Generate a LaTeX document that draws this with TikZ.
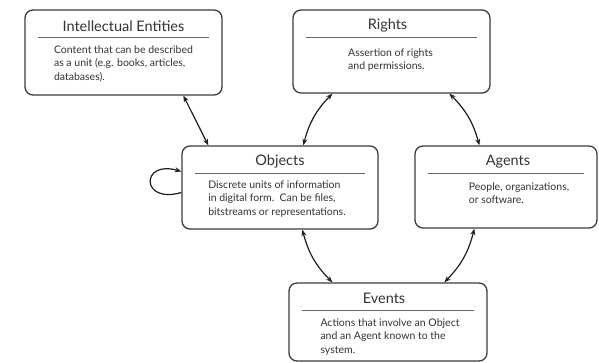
\documentclass[tikz,border=0pt]{standalone}
\usepackage{fontspec}
\setmainfont{Lato}
\usetikzlibrary{arrows.meta,calc}
\definecolor{boxcol}{HTML}{3C3C3C}
\definecolor{txtcol}{HTML}{333333}
\definecolor{rulecol}{HTML}{666666}
\definecolor{arrcol}{HTML}{1E1E1E}
\tikzset{
  box/.style={draw=boxcol, line width=1.3pt, rounded corners=8pt, fill=white, inner sep=0pt},
  boxtitle/.style={font=\fontsize{14.5}{16}\selectfont, text=txtcol, inner sep=0pt},
  boxbody/.style={font=\fontsize{10.5}{13.5}\selectfont, align=left, text=txtcol, anchor=north, inner sep=0pt},
  boxrule/.style={draw=rulecol, line width=0.8pt},
  link/.style={{Stealth[length=6.5pt,width=5pt]}-{Stealth[length=6.5pt,width=5pt]}, line width=1.2pt, draw=arrcol},
  selflink/.style={-{Stealth[length=6.5pt,width=5pt]}, line width=1.2pt, draw=arrcol},
}
\begin{document}
\begin{tikzpicture}[x=1pt,y=-1pt]
\useasboundingbox (0,0) rectangle (599,363);

% boxes
\node[box, minimum width=197pt, minimum height=85pt] (ie) at (123.5,52.5) {};
\node[box, minimum width=197pt, minimum height=83pt] (rights) at (391.5,51.5) {};
\node[box, minimum width=196pt, minimum height=83pt] (obj) at (280,187.5) {};
\node[box, minimum width=182pt, minimum height=82pt] (agents) at (506,187) {};
\node[box, minimum width=198pt, minimum height=78pt] (events) at (388,322) {};

% titles
\node[boxtitle] (ie-t) at ($(ie.north)+(0,17)$) {Intellectual Entities};
\node[boxtitle] (rights-t) at ($(rights.north)+(-4,16)$) {Rights};
\node[boxtitle] (obj-t) at ($(obj.north)+(0,16)$) {Objects};
\node[boxtitle] (agents-t) at ($(agents.north)+(2,16)$) {Agents};
\node[boxtitle] (events-t) at ($(events.north)+(-4,16)$) {Events};

% rules under the titles
\foreach \b in {ie,rights,obj,agents,events}
  \draw[boxrule] ($(\b.north west)+(14,28)$) -- ($(\b.north east)+(-14,28)$);

% descriptions
\node[boxbody] (ie-b) at ($(ie.north)+(0,36)$) {Content that can be described\\as a unit (e.g. books, articles,\\databases).};
\node[boxbody] (rights-b) at ($(rights.north)+(-1,39)$) {Assertion of rights\\and permissions.};
\node[boxbody] (obj-b) at ($(obj.north)+(-3,35)$) {Discrete units of information\\in digital form.\ \ Can be files,\\bitstreams or representations.};
\node[boxbody] (agents-b) at ($(agents.north)+(13,37)$) {People, organizations,\\or software.};
\node[boxbody] (events-b) at ($(events.north)+(2,36)$) {Actions that involve an Object\\and an Agent known to the\\system.};

% connector ends
\coordinate (ie-s) at ($(ie.south west)+(159,0)$);
\coordinate (obj-n1) at ($(obj.north west)+(27,0)$);
\coordinate (rights-s1) at ($(rights.south west)+(40,0)$);
\coordinate (obj-n2) at ($(obj.north west)+(122,0)$);
\coordinate (rights-s2) at ($(rights.south west)+(157,0)$);
\coordinate (agents-n) at ($(agents.north west)+(65,0)$);
\coordinate (obj-s) at ($(obj.south west)+(121,0)$);
\coordinate (events-n1) at ($(events.north west)+(44,0)$);
\coordinate (agents-s) at ($(agents.south west)+(60,0)$);
\coordinate (events-n2) at ($(events.north west)+(156,0)$);
\coordinate (obj-w1) at ($(obj.west)+(0,5)$);
\coordinate (obj-w2) at ($(obj.west)+(0,-16)$);

% connectors
\draw[link] (ie-s) -- (obj-n1);
\draw[link] (rights-s1) to[bend right=15] (obj-n2);
\draw[link] (rights-s2) to[bend left=15] (agents-n);
\draw[link] (obj-s) to[bend right=15] (events-n1);
\draw[link] (agents-s) to[bend left=15] (events-n2);
\draw[selflink] (obj-w1) .. controls ($(obj-w1)+(-41,12)$) and ($(obj-w2)+(-41,-12)$) .. (obj-w2);
\end{tikzpicture}
\end{document}
